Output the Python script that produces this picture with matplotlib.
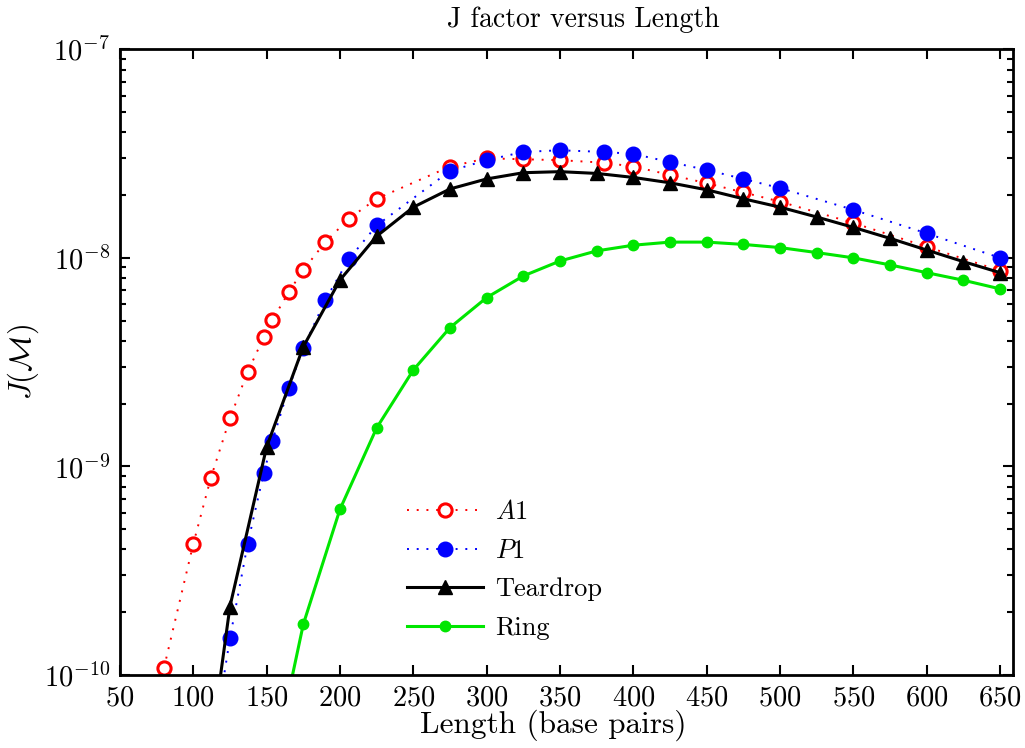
import matplotlib
matplotlib.use('Agg')
import matplotlib.pyplot as plt
from matplotlib.ticker import LogLocator, MultipleLocator, LogFormatterSciNotation, NullFormatter

plt.rcParams['font.family'] = ['cmr10', 'DejaVu Serif']
plt.rcParams['mathtext.fontset'] = 'cm'
plt.rcParams['axes.formatter.use_mathtext'] = True

# ── Data ─────────────────────────────────────────────────────────────────────
a1_len = [80, 100, 112, 125, 137, 148, 154, 165, 175, 190, 206, 225, 275,
          300, 325, 350, 380, 400, 425, 450, 475, 500, 550, 600, 650]
a1_j = [1.08e-10, 4.25e-10, 8.83e-10, 1.70e-9, 2.83e-9, 4.16e-9, 5.04e-9,
        6.84e-9, 8.75e-9, 1.19e-8, 1.54e-8, 1.92e-8, 2.74e-8, 3.00e-8,
        2.97e-8, 2.94e-8, 2.86e-8, 2.74e-8, 2.50e-8, 2.28e-8, 2.06e-8,
        1.86e-8, 1.47e-8, 1.13e-8, 8.68e-9]

p1_len = [112, 125, 137, 148, 154, 165, 175, 190, 206, 225, 275, 300, 325,
          350, 380, 400, 425, 450, 475, 500, 550, 600, 650]
p1_j = [4.0e-11, 1.50e-10, 4.23e-10, 9.28e-10, 1.33e-9, 2.37e-9, 3.69e-9,
        6.28e-9, 9.85e-9, 1.43e-8, 2.61e-8, 2.94e-8, 3.22e-8, 3.28e-8,
        3.22e-8, 3.15e-8, 2.88e-8, 2.64e-8, 2.39e-8, 2.16e-8, 1.70e-8,
        1.31e-8, 1.00e-8]

tear_len = [100, 125, 150, 175, 200, 225, 250, 275, 300, 325, 350, 375, 400,
            425, 450, 475, 500, 525, 550, 575, 600, 625, 650]
tear_j = [1.1e-11, 2.13e-10, 1.24e-9, 3.75e-9, 7.83e-9, 1.27e-8, 1.75e-8,
          2.14e-8, 2.39e-8, 2.56e-8, 2.59e-8, 2.54e-8, 2.43e-8, 2.29e-8,
          2.12e-8, 1.92e-8, 1.75e-8, 1.57e-8, 1.40e-8, 1.24e-8, 1.09e-8,
          9.59e-9, 8.49e-9]

ring_len = [150, 175, 200, 225, 250, 275, 300, 325, 350, 375, 400, 425, 450,
            475, 500, 525, 550, 575, 600, 625, 650]
ring_j = [2.6e-11, 1.75e-10, 6.23e-10, 1.53e-9, 2.90e-9, 4.63e-9, 6.45e-9,
          8.19e-9, 9.66e-9, 1.08e-8, 1.15e-8, 1.19e-8, 1.19e-8, 1.16e-8,
          1.12e-8, 1.06e-8, 1.00e-8, 9.25e-9, 8.49e-9, 7.81e-9, 7.10e-9]

# ── Plot ─────────────────────────────────────────────────────────────────────
fig = plt.figure(figsize=(10.25, 7.48), dpi=100)
ax = fig.add_axes([0.117, 0.0976, 0.8716, 0.8365])

ax.plot(a1_len, a1_j, color='red', linestyle=(0, (1, 4)), linewidth=1.4,
        marker='o', markersize=9.5, markerfacecolor='white',
        markeredgecolor='red', markeredgewidth=2.2, label='$A1$')
ax.plot(p1_len, p1_j, color='blue', linestyle=(0, (1, 4)), linewidth=1.4,
        marker='o', markersize=10.5, markerfacecolor='blue',
        markeredgecolor='blue', label='$P1$')
ax.plot(tear_len, tear_j, color='black', linewidth=2.2,
        marker='^', markersize=10, label='Teardrop')
ax.plot(ring_len, ring_j, color='#00e600', linewidth=2.2,
        marker='o', markersize=7.5, label='Ring')

ax.set_yscale('log')
ax.set_xlim(50, 659)
ax.set_ylim(1e-10, 1e-7)
ax.xaxis.set_major_locator(MultipleLocator(50))
ax.yaxis.set_major_locator(LogLocator(base=10, numticks=10))
ax.yaxis.set_minor_locator(LogLocator(base=10, subs=range(2, 10), numticks=10))
ax.yaxis.set_major_formatter(LogFormatterSciNotation())
ax.yaxis.set_minor_formatter(NullFormatter())

ax.tick_params(which='both', direction='in', top=True, right=True,
               labelsize=20.5, width=1.5)
ax.tick_params(which='major', length=7, pad=7)
ax.tick_params(which='minor', length=4)
for s in ax.spines.values():
    s.set_linewidth(2)

ax.set_title('J factor versus Length', fontsize=20, pad=16, x=0.519)
ax.set_xlabel('Length (base pairs)', fontsize=22.5, labelpad=-1, x=0.485)
ax.set_ylabel(r'$J(\mathcal{M})$', fontsize=22, labelpad=2)

ax.legend(loc='upper left', bbox_to_anchor=(0.309, 0.296), frameon=False,
          fontsize=19, handlelength=2.9, handletextpad=0.45, numpoints=1,
          labelspacing=0.56, borderaxespad=0)

fig.savefig('out.png', dpi=100)
